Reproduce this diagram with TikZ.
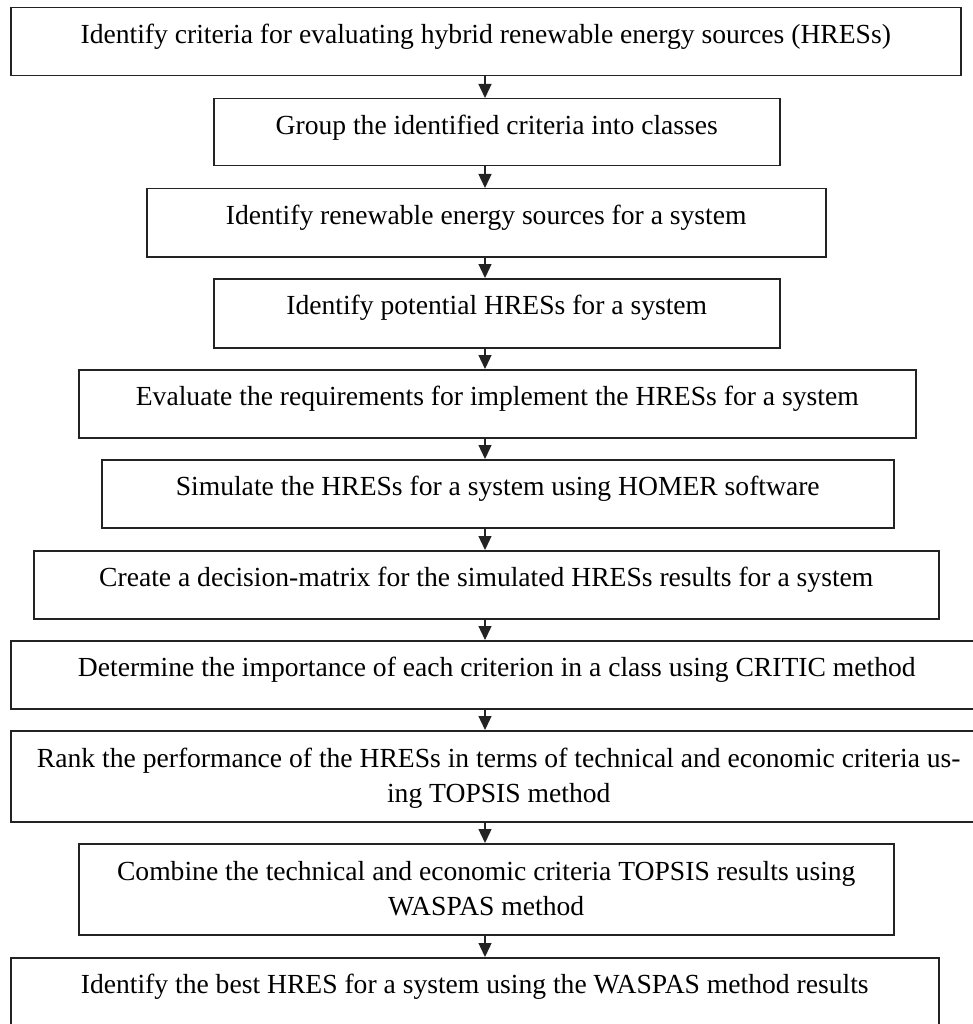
\documentclass[tikz,border=0pt]{standalone}
\usepackage{fontspec}
\setmainfont{Liberation Serif}
\usetikzlibrary{arrows.meta}
\definecolor{linec}{RGB}{35,35,35}
\newcommand\boxtext[2]{\parbox[t]{#1}{\centering #2}}
\begin{document}
\begin{tikzpicture}[x=1pt,y=-1pt,
  flow/.style={draw=linec, line width=1.5pt, inner sep=0pt, anchor=north west,
    font=\fontsize{27.6}{35}\selectfont, text=black},
  one/.style={text height=35.5pt, text depth=32.5pt, minimum height=68pt},
  two/.style={text height=36.5pt, text depth=54.5pt, minimum height=91pt},
  arr/.style={draw=linec, line width=1.3pt, -{Triangle[length=14pt,width=13pt]}}]
\useasboundingbox (0,0) rectangle (973,1024);
\fill[white] (0,0) rectangle (973,1024);
\coordinate (ax) at (485,0);
\node[flow,one,minimum width=950pt] (b1) at (10,7) {\boxtext{950pt}{Identify criteria for evaluating hybrid renewable energy sources (HRESs)}};
\node[flow,one,minimum width=566pt,text depth=31.5pt,minimum height=67pt] (b2) at (213,98) {\boxtext{566pt}{Group the identified criteria into classes}};
\node[flow,one,minimum width=679pt] (b3) at (146,188) {\boxtext{679pt}{Identify renewable energy sources for a system}};
\node[flow,one,minimum width=566pt,text depth=33.5pt,minimum height=69pt] (b4) at (213,278) {\boxtext{566pt}{Identify potential HRESs for a system}};
\node[flow,one,minimum width=837pt] (b5) at (78,369) {\boxtext{837pt}{Evaluate the requirements for implement the HRESs for a system}};
\node[flow,one,minimum width=792pt] (b6) at (101,459) {\boxtext{792pt}{Simulate the HRESs for a system using HOMER software}};
\node[flow,one,minimum width=905pt] (b7) at (33,550) {\boxtext{905pt}{Create a decision-matrix for the simulated HRESs results for a system}};
\node[flow,one,minimum width=972pt] (b8) at (10,640) {\boxtext{972pt}{Determine the importance of each criterion in a class using CRITIC method}};
\node[flow,two,minimum width=976pt] (b9) at (10,730) {\boxtext{976pt}{Rank the performance of the HRESs in terms of technical and economic criteria us-\\ing TOPSIS method}};
\node[flow,two,minimum width=815pt] (b10) at (78,843) {\boxtext{815pt}{Combine the technical and economic criteria TOPSIS results using\\WASPAS method}};
\node[flow,one,minimum width=928pt,text depth=34.5pt,minimum height=70pt] (b11) at (10,957) {\boxtext{928pt}{Identify the best HRES for a system using the WASPAS method results}};
\draw[arr] (b1.south -| ax) -- (b2.north -| ax);
\draw[arr] (b2.south -| ax) -- (b3.north -| ax);
\draw[arr] (b3.south -| ax) -- (b4.north -| ax);
\draw[arr] (b4.south -| ax) -- (b5.north -| ax);
\draw[arr] (b5.south -| ax) -- (b6.north -| ax);
\draw[arr] (b6.south -| ax) -- (b7.north -| ax);
\draw[arr] (b7.south -| ax) -- (b8.north -| ax);
\draw[arr] (b8.south -| ax) -- (b9.north -| ax);
\draw[arr] (b9.south -| ax) -- (b10.north -| ax);
\draw[arr] (b10.south -| ax) -- (b11.north -| ax);
\end{tikzpicture}
\end{document}
